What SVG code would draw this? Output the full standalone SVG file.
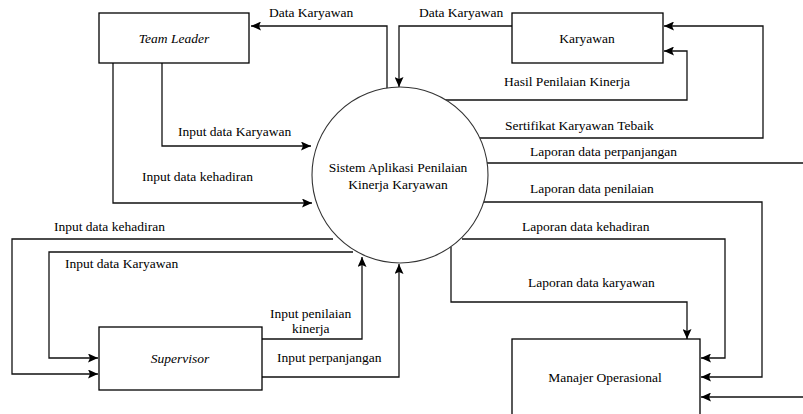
<svg xmlns="http://www.w3.org/2000/svg" width="803" height="414" viewBox="0 0 803 414" font-family="'Liberation Serif', 'DejaVu Serif', serif">
<defs>
<marker id="ah" markerUnits="userSpaceOnUse" markerWidth="11" markerHeight="9" refX="10" refY="4.5" orient="auto">
<path d="M0,0 L10,4.5 L0,9 L2,4.5 z" fill="#000"/>
</marker>
<style>
.box{fill:#fff;stroke:#000;stroke-width:1.3}
.cir{fill:#fff;stroke:#333;stroke-width:1.1}
.ln{fill:none;stroke:#111;stroke-width:1.3;marker-end:url(#ah)}
.pl{fill:none;stroke:#111;stroke-width:1.3}
.t{font-family:'Liberation Serif','DejaVu Serif',serif;font-size:13.5px;fill:#000}
.c{text-anchor:middle}
.i{font-style:italic}
</style>
</defs>
<rect width="803" height="414" fill="#fff"/>
<g id="connectors">
<path class="ln" d="M387,89 V26 H251"/>
<path class="ln" d="M512,26 H399 V87"/>
<path class="ln" d="M443,100 H687 V51 H664"/>
<path class="ln" d="M480,138 H763 V26 H664"/>
<path class="pl" d="M487,163 H815 V397"/>
<path class="ln" d="M815,397 H701"/>
<path class="ln" d="M482,202 H762 V377 H701"/>
<path class="ln" d="M462,239 H725 V358 H701"/>
<path class="ln" d="M451,247 V302 H687 V339"/>
<path class="ln" d="M162,63 V146 H311"/>
<path class="ln" d="M113,63 V203 H312"/>
<path class="ln" d="M333,239 H12 V374 H98"/>
<path class="ln" d="M353,252 H49 V358 H98"/>
<path class="ln" d="M262,339 H362 V257"/>
<path class="ln" d="M262,377 H399 V264"/>
</g>
<g id="team-leader">
<rect class="box" x="99" y="13" width="150" height="50"/>
<text class="t c i" x="174" y="43">Team Leader</text>
</g>
<g id="karyawan">
<rect class="box" x="512" y="13" width="151" height="50"/>
<text class="t c" x="587" y="43">Karyawan</text>
</g>
<g id="sistem">
<circle class="cir" cx="400" cy="175" r="88"/>
<text class="t c" x="398" y="172">Sistem Aplikasi Penilaian</text>
<text class="t c" x="398" y="189">Kinerja Karyawan</text>
</g>
<g id="supervisor">
<rect class="box" x="99" y="327" width="163" height="63"/>
<text class="t c i" x="180" y="363">Supervisor</text>
</g>
<g id="manajer">
<rect class="box" x="512" y="339" width="188" height="90"/>
<text class="t c" x="605" y="382">Manajer Operasional</text>
</g>
<g id="labels">
<text class="t" x="269" y="17">Data Karyawan</text>
<text class="t" x="419" y="17">Data Karyawan</text>
<text class="t" x="504" y="86">Hasil Penilaian Kinerja</text>
<text class="t" x="505" y="130">Sertifikat Karyawan Tebaik</text>
<text class="t" x="530" y="156">Laporan data perpanjangan</text>
<text class="t" x="530" y="193">Laporan data penilaian</text>
<text class="t" x="178" y="136">Input data Karyawan</text>
<text class="t" x="142" y="181">Input data kehadiran</text>
<text class="t" x="522" y="231">Laporan data kehadiran</text>
<text class="t" x="528" y="287">Laporan data karyawan</text>
<text class="t" x="54" y="231">Input data kehadiran</text>
<text class="t" x="65" y="268">Input data Karyawan</text>
<text class="t" x="270" y="318">Input penilaian</text>
<text class="t" x="292" y="333">kinerja</text>
<text class="t" x="277" y="362">Input perpanjangan</text>
</g>
</svg>
